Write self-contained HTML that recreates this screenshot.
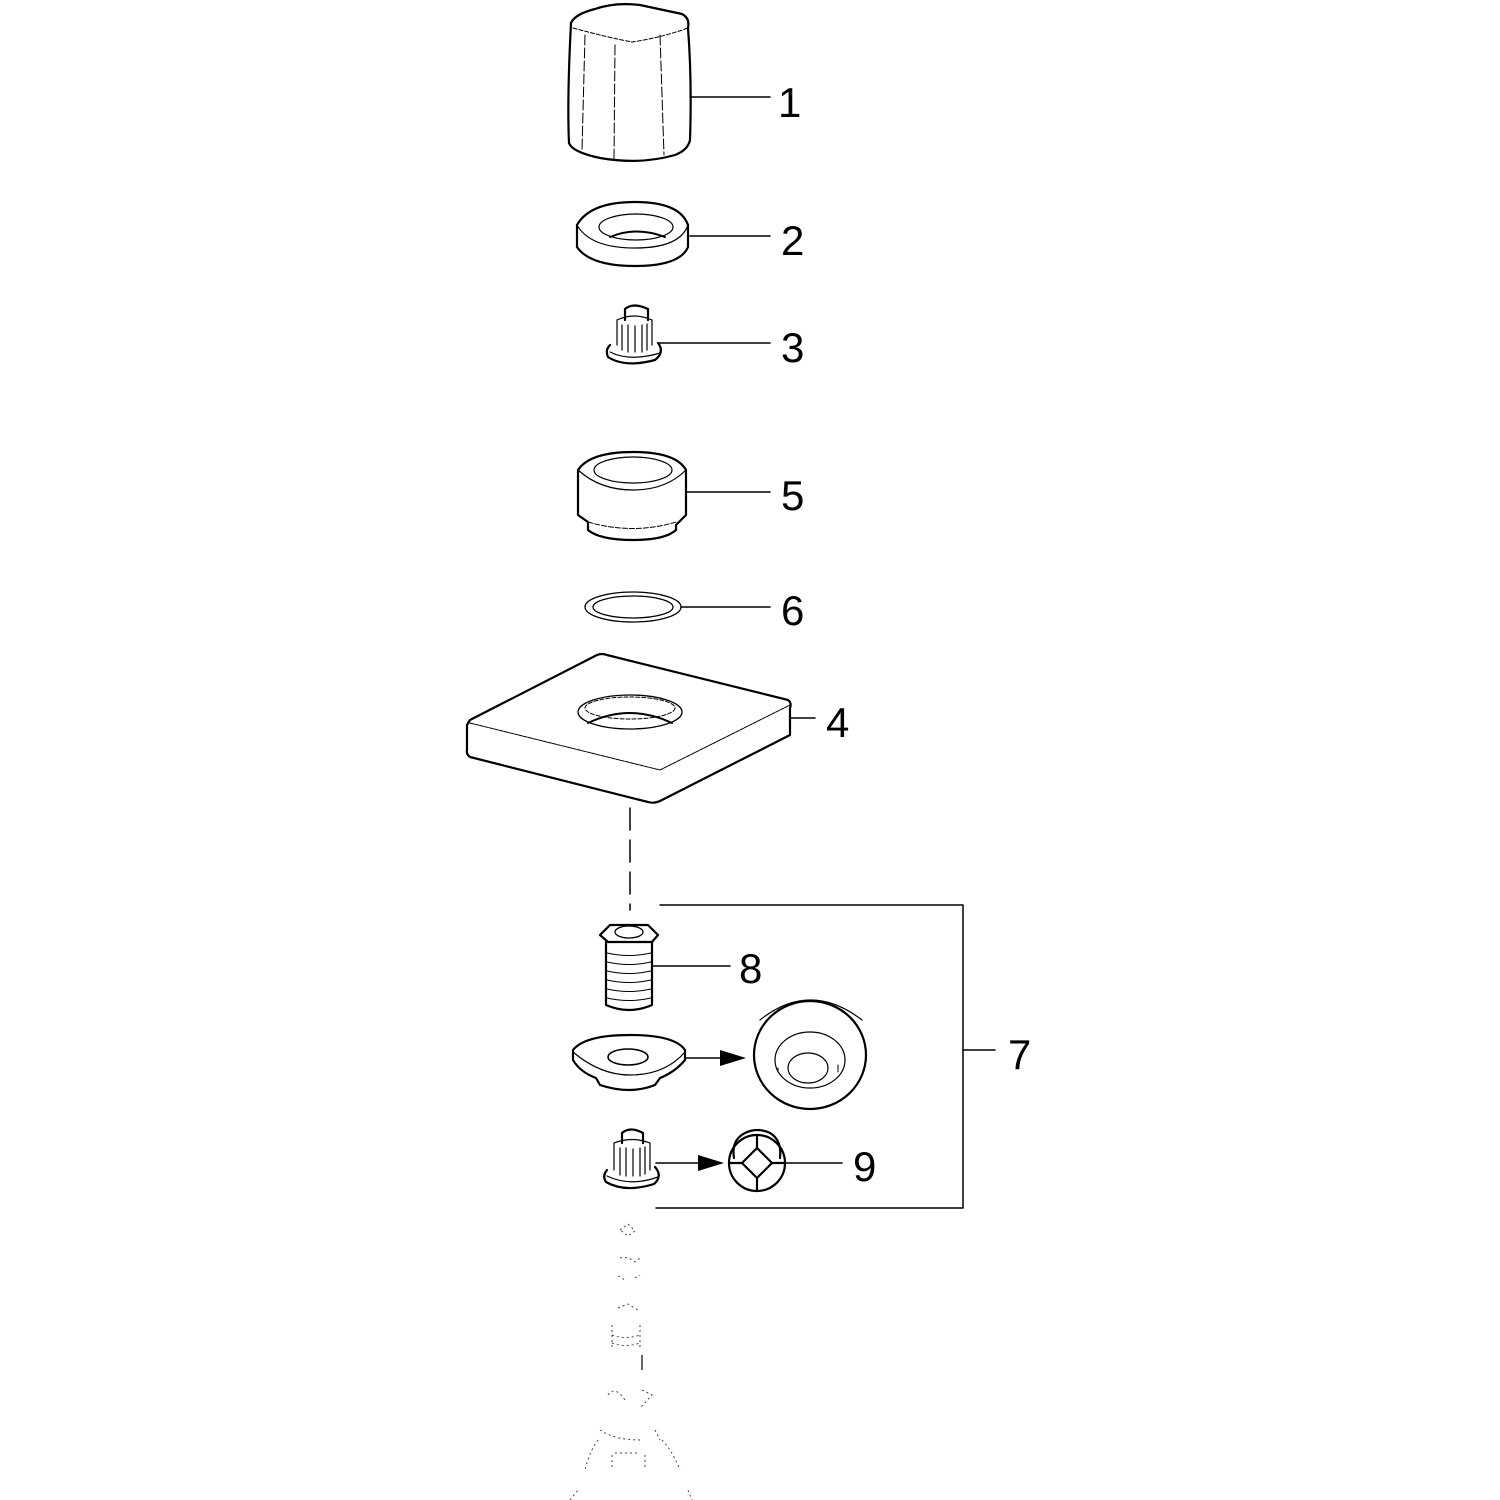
<!DOCTYPE html>
<html><head><meta charset="utf-8"><style>
html,body{margin:0;padding:0;background:#fff;}
svg{display:block}
text{font-family:"Liberation Sans",sans-serif;font-size:42px;fill:#000}
</style></head><body>
<svg width="1500" height="1500" viewBox="0 0 1500 1500" xmlns="http://www.w3.org/2000/svg">
<g fill="none" stroke="#000" stroke-width="2.2" stroke-linecap="round" stroke-linejoin="round">
<!-- Part 1 knob -->
<path d="M571,23 Q575,14 595,9 Q615,2 640,5 L682,14 Q690,18 688,28 Q692,80 690,140 Q688,150 675,155 Q640,165 600,158 Q572,152 569,143 Q567,100 571,23 Z"/>
<path d="M573,28 Q610,38 632,42 Q660,38 688,28" stroke-width="1" stroke-dasharray="4,2"/>
<path d="M585,35 L582,150 M615,45 L614,160 M660,35 L664,155" stroke-width="1" stroke-dasharray="10,3"/>
<line x1="690" y1="97" x2="770" y2="97" stroke-width="1.5"/>
<!-- Part 2 ring -->
<path d="M577,225 Q590,202 635,202 Q680,202 688,225 L688,247 Q680,266 635,266 Q590,266 577,247 Z"/>
<path d="M577,225 Q590,248 635,248 Q680,248 688,225" stroke-width="1.2"/>
<ellipse cx="636" cy="227" rx="37" ry="13" stroke-width="1.2"/>
<path d="M610,237 Q636,226 665,237" stroke-width="2"/>
<line x1="690" y1="236" x2="770" y2="236" stroke-width="1.5"/>
<!-- Part 3 pin -->
<path d="M625,309 Q633,302 648,309 L648,320 M625,309 L625,320"/>
<path d="M617,320 L617,345 M652,320 L652,345 M617,320 Q634,312 652,320 M622,325 L622,350 M628,325 L628,352 M635,326 L635,352 M642,325 L642,352 M647,324 L647,350" stroke-width="1.2"/>
<path d="M610,345 Q605,350 608,357 Q625,368 655,360 Q665,352 658,343" />
<path d="M610,352 Q630,362 660,353" stroke-width="1.2"/>
<line x1="658" y1="343" x2="770" y2="343" stroke-width="1.5"/>
<!-- Part 5 -->
<path d="M578,470 Q590,452 633,452 Q676,452 686,470 L686,515 L676,525 L676,530 Q665,540 633,540 Q600,540 588,530 L588,522 L578,515 Z"/>
<path d="M578,470 Q600,490 633,490 Q666,490 686,470" stroke-width="1.2"/>
<ellipse cx="633" cy="470" rx="39" ry="13" stroke-width="1.2"/>
<path d="M588,522 Q633,535 676,522" stroke-width="1" stroke-dasharray="5,2"/>
<line x1="686" y1="492" x2="770" y2="492" stroke-width="1.5"/>
<!-- Part 6 o-ring -->
<ellipse cx="633" cy="607" rx="48" ry="15" stroke-width="1.3"/>
<ellipse cx="633" cy="607" rx="40" ry="11" stroke-width="1.3"/>
<line x1="681" y1="607" x2="770" y2="607" stroke-width="1.5"/>
<!-- Part 4 plate -->
<path d="M470,720 L597,655 Q602,653 607,655 L788,700 Q792,703 790,708 L790,735 L662,800 Q655,804 648,802 L470,757 Q466,754 467,750 L467,725 Z"/>
<path d="M470,723 L660,770 L790,705" stroke-width="1" stroke-dasharray="4,1"/>
<ellipse cx="630" cy="712" rx="52" ry="17" stroke-width="1.3"/>
<path d="M588,723 Q630,703 672,723" stroke-width="2"/>
<ellipse cx="630" cy="708" rx="45" ry="11" stroke-width="1" stroke-dasharray="4,2"/>
<line x1="790" y1="718" x2="815" y2="718" stroke-width="1.5"/>
<!-- dashed axis -->
<line x1="630" y1="808" x2="630" y2="910" stroke-width="1.5" stroke-dasharray="22,10"/>
<!-- bracket 7 -->
<polyline points="660,905 963,905 963,1208 656,1208" stroke-width="1.5"/>
<line x1="963" y1="1050" x2="995" y2="1050" stroke-width="1.5"/>
<!-- Part 8 -->
<path d="M600,935 L610,925 L648,925 L658,935 L652,942 L608,942 Z"/>
<ellipse cx="629" cy="932" rx="14" ry="6" stroke-width="1.3"/>
<path d="M606,942 L606,1005 Q629,1015 652,1005 L652,942"/>
<path d="M607,953 Q629,958 651,953 M607,962 Q629,967 651,962 M607,971 Q629,976 651,971 M607,980 Q629,985 651,980 M607,989 Q629,994 651,989 M607,998 Q629,1003 651,998" stroke-width="1"/>
<line x1="652" y1="966" x2="730" y2="966" stroke-width="1.5"/>
<!-- washer -->
<path d="M573,1050 Q585,1035 630,1035 Q675,1035 685,1050 L685,1060 Q675,1072 660,1078 L655,1085 Q630,1095 600,1085 L596,1078 Q580,1072 573,1060 Z"/>
<path d="M573,1052 Q600,1075 630,1075 Q665,1075 685,1052" stroke-width="1.2"/>
<ellipse cx="628" cy="1057" rx="20" ry="8" stroke-width="1.6"/>
<line x1="685" y1="1058" x2="722" y2="1058" stroke-width="1.5"/>
<!-- big round -->
<ellipse cx="810" cy="1055" rx="56" ry="54"/>
<path d="M760,1020 Q810,980 862,1020" stroke-width="1.2"/>
<ellipse cx="810" cy="1060" rx="35" ry="28" stroke-width="1.2"/>
<ellipse cx="808" cy="1068" rx="20" ry="15" stroke-width="1.2"/>
<path d="M778,1072 L778,1068 M838,1072 L838,1065" stroke-width="1"/>
<!-- pin 2 -->
<path d="M622,1133 Q630,1126 643,1133 L643,1143 M622,1133 L622,1143"/>
<path d="M614,1143 L614,1170 M650,1143 L650,1170 M614,1143 Q632,1136 650,1143 M620,1148 L620,1175 M626,1148 L626,1176 M633,1149 L633,1176 M640,1148 L640,1176 M645,1147 L645,1174" stroke-width="1.2"/>
<path d="M607,1170 Q602,1176 606,1182 Q625,1193 654,1184 Q663,1176 655,1167"/>
<path d="M607,1176 Q630,1187 658,1177" stroke-width="1.2"/>
<line x1="656" y1="1163" x2="700" y2="1163" stroke-width="1.5"/>
<!-- cap 9 -->
<path d="M734,1158 Q731,1140 745,1133 Q757,1127 770,1133 Q782,1140 780,1158"/>
<circle cx="757" cy="1163" r="28"/>
<path d="M757,1148 L772,1163 L757,1178 L742,1163 Z"/>
<path d="M757,1135 L757,1148 M729,1163 L742,1163 M772,1163 L785,1163 M757,1178 L757,1191" />
<line x1="785" y1="1163" x2="842" y2="1163" stroke-width="1.5"/>
</g>
<!-- arrowheads -->
<polygon points="720,1050 746,1058 720,1066" fill="#000"/>
<polygon points="698,1155 724,1163 698,1171" fill="#000"/>
<!-- faint dotted lower parts -->
<g fill="none" stroke="#444" stroke-width="1" stroke-dasharray="2,3">
<path d="M620,1230 L628,1224 L635,1231 L628,1236 Z"/>
<path d="M620,1258 Q628,1256 635,1262 L640,1258"/>
<path d="M618,1276 L625,1280 M635,1278 L640,1275"/>
<path d="M618,1308 L628,1304 L638,1310"/>
<path d="M612,1325 L612,1350 M640,1325 L640,1350 M612,1335 Q625,1340 640,1335 M612,1343 Q625,1348 640,1343"/>
<path d="M608,1395 Q615,1385 625,1400 M642,1390 L652,1395 L640,1408"/>
<path d="M600,1430 Q615,1440 640,1440 M655,1430 L660,1440"/>
<path d="M598,1440 Q590,1450 585,1470 M662,1440 Q672,1450 680,1470"/>
<path d="M612,1455 L612,1470 M645,1455 L645,1470 M615,1453 L640,1453"/>
<path d="M570,1500 L578,1490 M688,1490 L692,1500"/>
</g>
<line x1="642" y1="1355" x2="642" y2="1370" stroke="#000" stroke-width="1.2"/>
<text x="778" y="117">1</text>
<text x="781" y="255">2</text>
<text x="781" y="362">3</text>
<text x="826" y="737">4</text>
<text x="781" y="510">5</text>
<text x="781" y="625">6</text>
<text x="1008" y="1069">7</text>
<text x="739" y="983">8</text>
<text x="853" y="1181">9</text>
</svg>
</body></html>
